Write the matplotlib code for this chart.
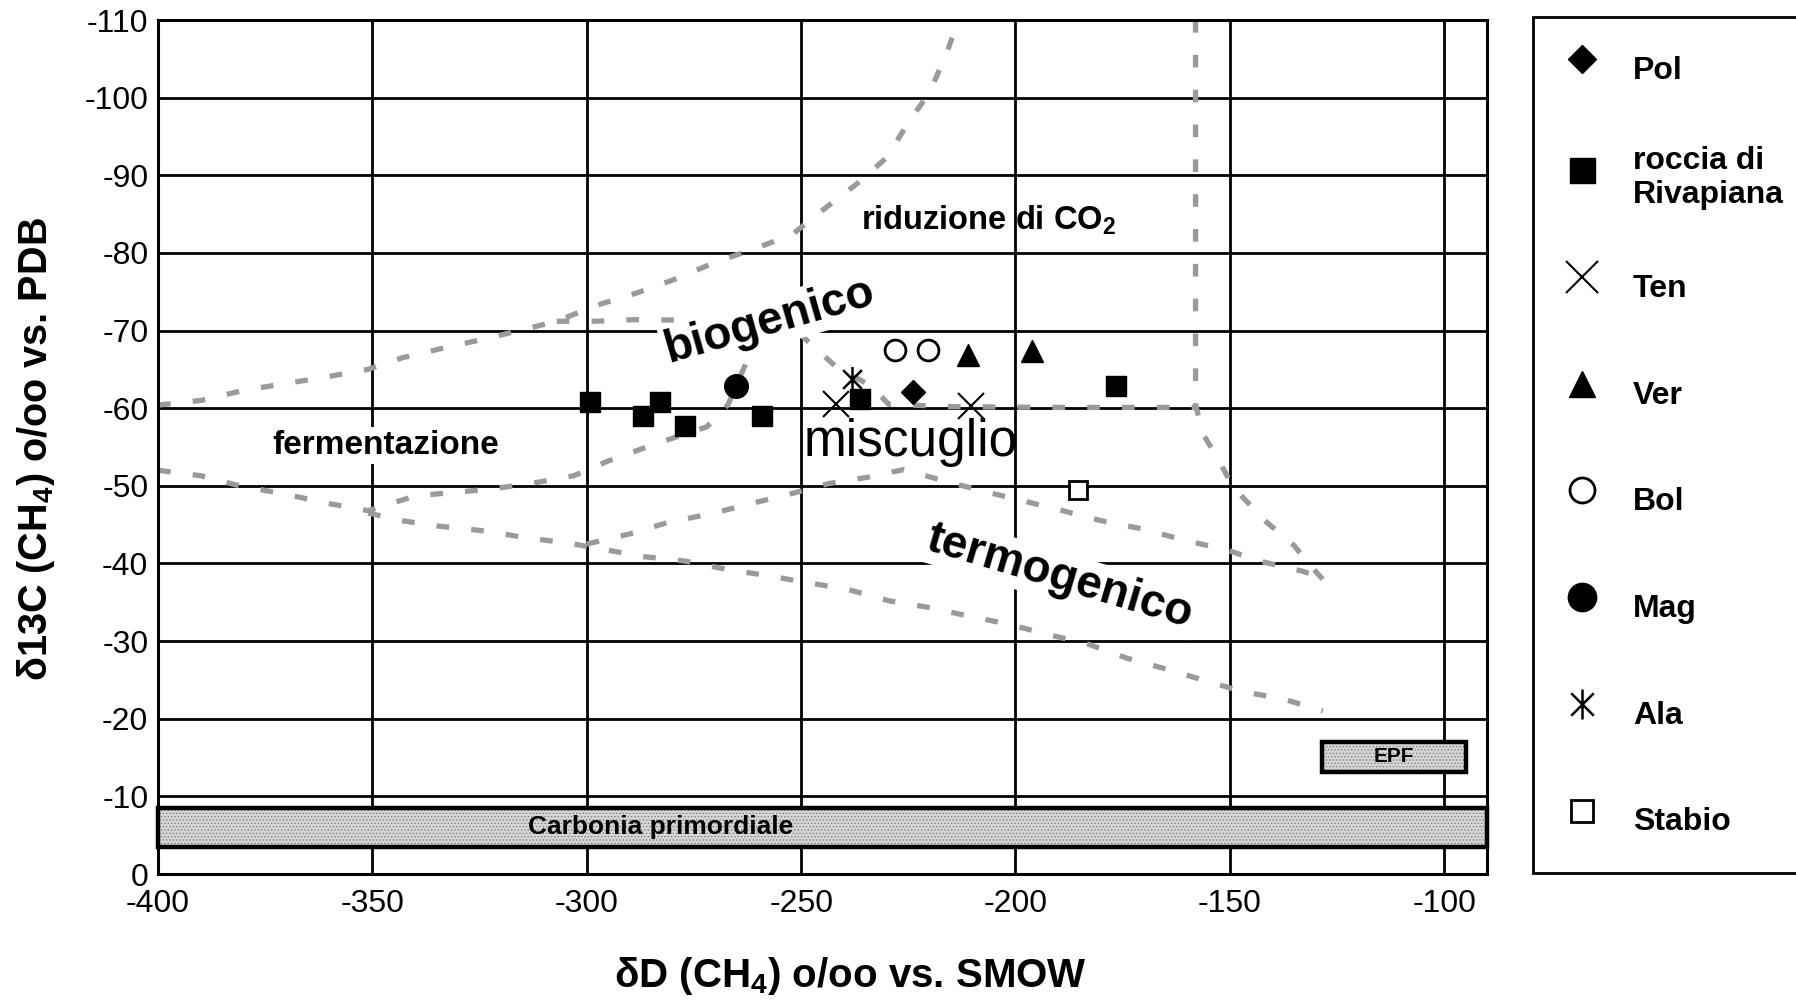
import matplotlib
matplotlib.use("Agg")
import matplotlib.pyplot as plt
from matplotlib.patches import Rectangle
from matplotlib.path import Path

plt.rcParams['font.family'] = ['Liberation Sans', 'DejaVu Sans']
plt.rcParams['axes.unicode_minus'] = False
plt.rcParams['mathtext.fontset'] = 'custom'
plt.rcParams['mathtext.rm'] = 'Liberation Sans:bold'
plt.rcParams['mathtext.default'] = 'rm'
plt.rcParams['hatch.linewidth'] = 0.6

# sample points (dD, d13C)
pol_x = [-224]
pol_y = [-62.1]
riva_x = [-299.3, -286.9, -282.9, -277.1, -259.1, -236.3, -176.6]
riva_y = [-60.8, -59.0, -60.8, -57.7, -59.0, -61.2, -62.8]
ten_x = [-241.8, -210.4]
ten_y = [-60.5, -60.3]
ver_x = [-211.1, -196.2]
ver_y = [-66.9, -67.4]
bol_x = [-228.2, -220.3]
bol_y = [-67.5, -67.5]
mag_x = [-265.1]
mag_y = [-62.8]
ala_x = [-238.1]
ala_y = [-63.8]
stabio_x = [-185.5]
stabio_y = [-49.5]

# field boundaries (hatched lines)
co2_x = [-400, -390, -380, -370, -361, -351, -343, -333, -324, -315, -307,
         -298, -288, -279, -270, -260, -252, -245, -237, -230, -225, -220, -216, -213]
co2_y = [-60.4, -61, -62.3, -63.2, -64, -65, -66.5, -67.8, -68.9, -70.1, -71.2,
         -73.2, -74.9, -76.7, -78.8, -80.7, -82.4, -85.5, -88.9, -92.3, -96.8, -100.7, -105.8, -110.5]
mix_x = [-307, -298, -289, -270, -256, -250, -247, -242, -233.5, -229.6, -215, -190, -158]
mix_y = [-71.2, -71.2, -71.4, -71.3, -70.6, -69.4, -67.9, -65.4, -62.8, -60.5, -60.2, -60.1, -60.1]
co2r_x = [-158, -158, -156.3, -153, -149.2, -141.4, -135, -131.5, -126.6]
co2r_y = [-110, -60.5, -56.7, -53.7, -49.8, -45.3, -42.3, -39.9, -36.9]
ferm_x = [-400, -390, -381, -371, -360, -351, -340, -330, -322, -312, -303, -295,
          -284, -272, -267, -263.5, -261]
ferm_y = [-52, -51.3, -50, -49, -47.7, -46.8, -48.7, -49.2, -49.6, -50.4, -51.3, -53.2,
          -55.4, -57.6, -60.5, -65, -68]
thlo_x = [-351, -343, -334.5, -324, -314, -304, -296, -287, -277, -267, -257.4, -248.4,
          -239.4, -229.6, -219.8, -210.8, -201.8, -192.8, -183, -174, -164.2, -155.2,
          -147, -137.3, -128.3]
thlo_y = [-46.5, -45.5, -44.8, -44.2, -43.3, -42.6, -41.8, -40.9, -40.3, -39.2, -38.4, -37.5,
          -36.7, -35.2, -34.3, -33.2, -32.2, -30.9, -29.6, -27.8, -26.3, -24.8,
          -23.5, -22.5, -21]
thup_x = [-300, -290, -281, -271, -261, -251.5, -243.5, -234.5, -226, -216.5, -206,
          -198.5, -189, -180, -170, -160, -151, -143, -133, -130]
thup_y = [-42.5, -43.8, -45.3, -46.4, -47.8, -49.1, -50.3, -51.1, -52.1, -50.6, -49.1,
          -48.1, -46.8, -45.5, -44.4, -42.9, -41.8, -40.3, -39.0, -38.4]

carbonia_x = (-400, -90)
carbonia_y = (-3.5, -8.5)
epf_x = (-128.4, -94.9)
epf_y = (-13.2, -17.0)

fig = plt.figure(figsize=(17.96, 10), dpi=100)
ax = fig.add_axes([0.088, 0.126, 0.740, 0.854])

ax.set_xlim(-400, -90)
ax.set_ylim(0, -110)
ax.set_xticks(range(-400, -99, 50))
ax.set_yticks(range(0, -111, -10))
ax.grid(True, color='black', linewidth=2.0, zorder=0)
ax.set_axisbelow(True)
for s in ax.spines.values():
    s.set_linewidth(2.2)
ax.tick_params(length=0, labelsize=23, pad=7)
ax.tick_params(axis='x', pad=11)

# hatched boundaries
dash = dict(color='#9a9a9a', linewidth=3.8, linestyle=(0, (2.4, 4.2)),
            dash_capstyle='butt', zorder=2)
for lx, ly in [(co2_x, co2_y), (mix_x, mix_y), (co2r_x, co2r_y),
               (ferm_x, ferm_y), (thlo_x, thlo_y), (thup_x, thup_y)]:
    ax.plot(lx, ly, **dash)

# boxes
for bx, by in [(carbonia_x, carbonia_y), (epf_x, epf_y)]:
    ax.add_patch(Rectangle((bx[0], by[0]), bx[1] - bx[0], by[1] - by[0],
                           facecolor='#d6d6d6', edgecolor='#808080', hatch='.....',
                           linewidth=0, zorder=3))
    ax.add_patch(Rectangle((bx[0], by[0]), bx[1] - bx[0], by[1] - by[0],
                           facecolor='none', edgecolor='black', linewidth=3.2,
                           zorder=4, clip_on=False))
ax.text(-282.7, sum(carbonia_y) / 2, 'Carbonia primordiale', fontsize=19,
        fontweight='bold', ha='center', va='center', zorder=5)
ax.text(sum(epf_x) / 2, sum(epf_y) / 2, 'EPF', fontsize=15, fontweight='bold',
        ha='center', va='center', zorder=5)

# field labels
white = dict(facecolor='white', edgecolor='none', pad=2)
ax.text(-206.3, -84.2, 'riduzione di CO$_2$', fontsize=23.5, fontweight='bold',
        ha='center', va='center', zorder=5)
ax.text(-257.3, -71.2, 'biogenico', fontsize=33, fontweight='bold', rotation=16,
        ha='center', va='center', zorder=5, bbox=white)
ax.text(-346.8, -55.2, 'fermentazione', fontsize=24, fontweight='bold',
        ha='center', va='center', zorder=5, bbox=white)
ax.text(-224.5, -55.6, 'miscuglio', fontsize=37, ha='center', va='center', zorder=5)
ax.text(-189.8, -38.3, 'termogenico', fontsize=33, fontweight='bold', rotation=-16.5,
        ha='center', va='center', zorder=5, bbox=white)

# samples
ast_path = Path([(0, -1), (0, 1), (-0.75, -0.75), (0.75, 0.75), (-0.75, 0.75), (0.75, -0.75)],
                [Path.MOVETO, Path.LINETO] * 3)
ax.plot(pol_x, pol_y, 'D', color='black', ms=12, ls='none', label='Pol', zorder=6)
ax.plot(riva_x, riva_y, 's', color='black', ms=15, ls='none', label='roccia di\nRivapiana', zorder=6)
ax.plot(ten_x, ten_y, 'x', color='black', ms=19, mew=1.5, ls='none', label='Ten', zorder=6)
ax.plot(ver_x, ver_y, '^', color='black', ms=16, ls='none', label='Ver', zorder=6)
ax.plot(bol_x, bol_y, 'o', mfc='white', mec='black', mew=2, ms=15, ls='none', label='Bol', zorder=6)
ax.plot(mag_x, mag_y, 'o', color='black', ms=17, ls='none', label='Mag', zorder=6)
ax.plot(ala_x, ala_y, marker=ast_path, color='black', ms=18, mew=1.8, ls='none', label='Ala', zorder=7)
ax.plot(stabio_x, stabio_y, 's', mfc='white', mec='black', mew=2, ms=13, ls='none', label='Stabio', zorder=6)

ax.set_xlabel('δD (CH$_4$) o/oo vs. SMOW', fontsize=29, fontweight='bold', va='center')
ax.xaxis.set_label_coords(0.5207, -0.12)
ax.set_ylabel('δ13C (CH$_4$) o/oo vs. PDB', fontsize=28.5, fontweight='bold', va='center')
ax.yaxis.set_label_coords(-0.092, 0.4977)

leg = ax.legend(loc='upper left', bbox_to_anchor=(1533 / 1796, 1 - 17 / 1000),
                bbox_transform=fig.transFigure, borderaxespad=0, numpoints=1,
                prop={'size': 23, 'weight': 'bold'}, handleheight=2.5, labelspacing=1.47,
                handlelength=1.69, handletextpad=0.75, borderpad=0.69, markerscale=1.2,
                fancybox=False, framealpha=1, edgecolor='black')
leg.get_frame().set_linewidth(2)

fig.savefig('out.png', dpi=100)
